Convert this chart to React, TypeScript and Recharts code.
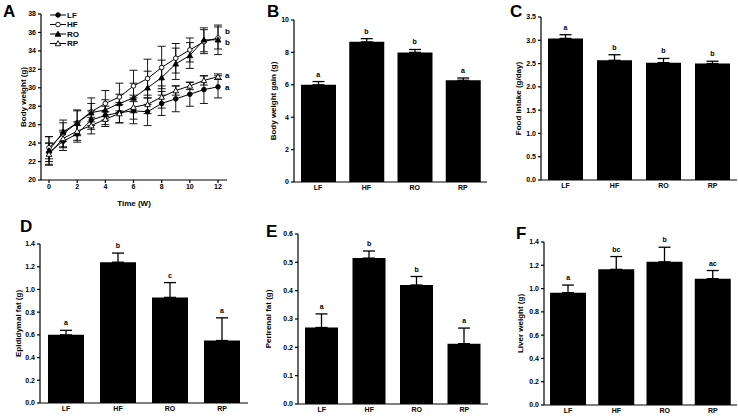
import React from "react";
import { ComposedChart, Line, Bar, XAxis, YAxis, ErrorBar, Legend } from "recharts";

// panel A: body weight over 12 weeks
const weeks = [0, 1, 2, 3, 4, 5, 6, 7, 8, 9, 10, 11, 12];
const lfWeight = [23.0, 24.2, 25.0, 26.5, 27.0, 27.3, 27.5, 27.4, 28.3, 28.8, 29.3, 29.8, 30.1];
const lfSem = [1.0, 1.0, 0.9, 1.0, 1.0, 1.1, 1.4, 1.5, 1.3, 1.4, 1.3, 1.5, 1.2];
const hfWeight = [23.5, 25.0, 26.2, 27.4, 28.3, 29.0, 30.2, 31.0, 32.2, 33.2, 34.1, 35.0, 35.4];
const hfSem = [1.2, 1.5, 1.4, 1.5, 1.4, 1.5, 1.7, 2.1, 2.3, 1.6, 1.3, 1.3, 1.2];
const roWeight = [23.2, 25.2, 26.2, 27.3, 27.6, 28.3, 28.9, 30.0, 31.1, 32.6, 33.5, 35.2, 35.2];
const roSem = [1.5, 1.0, 1.3, 1.0, 1.1, 1.0, 1.6, 1.8, 1.9, 1.7, 1.4, 1.3, 1.6];
const rpWeight = [22.8, 24.5, 25.3, 25.9, 26.6, 27.2, 27.9, 28.2, 29.0, 29.7, 30.2, 30.8, 31.2];
const rpSem = [1.2, 0.9, 1.0, 0.9, 0.8, 1.0, 1.3, 1.0, 1.2, 0.5, 0.4, 0.5, 0.3];
const weightTicks = [20, 22, 24, 26, 28, 30, 32, 34, 36, 38];
const weekTicks = [0, 2, 4, 6, 8, 10, 12];

// bar panels
const groups = ["LF", "HF", "RO", "RP"];
const gainMean = [6.0, 8.65, 8.0, 6.28];
const gainSem = [0.2, 0.2, 0.18, 0.14];
const gainLetters = ["a", "b", "b", "a"];
const intakeMean = [3.04, 2.57, 2.52, 2.5];
const intakeSem = [0.08, 0.12, 0.09, 0.05];
const intakeLetters = ["a", "b", "b", "b"];
const epiMean = [0.6, 1.24, 0.93, 0.55];
const epiSem = [0.04, 0.08, 0.13, 0.2];
const epiLetters = ["a", "b", "c", "a"];
const periMean = [0.27, 0.515, 0.42, 0.213];
const periSem = [0.048, 0.025, 0.03, 0.055];
const periLetters = ["a", "b", "b", "a"];
const liverMean = [0.965, 1.165, 1.23, 1.085];
const liverSem = [0.065, 0.11, 0.125, 0.07];
const liverLetters = ["a", "bc", "b", "ac"];

const FONT = "'Liberation Sans', Arial, sans-serif";
const tickStyle = { fontSize: 7, fontWeight: "bold", fill: "#000", fontFamily: FONT };
const axisStyle = { stroke: "#000", strokeWidth: 1.2 };

const lineSeries = [
  { key: "LF", values: lfWeight, sem: lfSem, shape: "circle", open: false, letter: "a", dy: 0 },
  { key: "HF", values: hfWeight, sem: hfSem, shape: "circle", open: true, letter: "b", dy: -7 },
  { key: "RO", values: roWeight, sem: roSem, shape: "triangle", open: false, letter: "b", dy: 2 },
  { key: "RP", values: rpWeight, sem: rpSem, shape: "triangle", open: true, letter: "a", dy: -2 },
];

const weightData = weeks.map((w, i) => {
  const row: any = { week: w };
  lineSeries.forEach((s) => {
    row[s.key] = s.values[i];
    row[s.key + "err"] = s.sem[i];
  });
  return row;
});

function marker(shape: string, open: boolean, cx: number, cy: number, key?: any) {
  const fill = open ? "#fff" : "#000";
  if (shape === "circle") {
    return <circle key={key} cx={cx} cy={cy} r={2.3} fill={fill} stroke="#000" strokeWidth={0.9} />;
  }
  const s = 2.8;
  return (
    <path
      key={key}
      d={`M${cx},${cy - s} L${cx + s},${cy + s * 0.8} L${cx - s},${cy + s * 0.8} Z`}
      fill={fill}
      stroke="#000"
      strokeWidth={0.9}
    />
  );
}

const renderLegend = () => (
  <svg width={40} height={40} style={{ display: "block" }}>
    {lineSeries.map((s, i) => (
      <g key={s.key} transform={`translate(0, ${4 + i * 9.5})`}>
        <line x1={0} x2={16} y1={0} y2={0} stroke="#000" strokeWidth={1} />
        {marker(s.shape, s.open, 8, 0)}
        <text x={17} y={0} dy="0.35em" fontSize={8} fontWeight="bold" fontFamily={FONT}>
          {s.key}
        </text>
      </g>
    ))}
  </svg>
);

function PanelLetter({ x, y, text }: { x: number; y: number; text: string }) {
  return (
    <div
      style={{
        position: "absolute",
        left: x,
        top: y,
        fontFamily: FONT,
        fontWeight: "bold",
        fontSize: 17,
        lineHeight: "17px",
      }}
    >
      {text}
    </div>
  );
}

function WeightPanel() {
  const last = weeks.length - 1;
  return (
    <div style={{ position: "absolute", left: 0, top: 0 }}>
      <ComposedChart width={240} height={210} data={weightData} margin={{ top: 14, right: 13, bottom: 4, left: 1 }}>
        <XAxis
          dataKey="week"
          type="number"
          domain={[0, 12]}
          ticks={weekTicks}
          interval={0}
          padding={{ left: 8, right: 9 }}
          height={26}
          tick={tickStyle}
          tickSize={3}
          tickMargin={1}
          tickLine={axisStyle}
          axisLine={axisStyle}
          label={{ value: "Time (W)", position: "insideBottom", offset: 0, style: { ...tickStyle, fontSize: 8 } }}
        />
        <YAxis
          width={40}
          domain={[20, 38]}
          ticks={weightTicks}
          interval={0}
          tick={tickStyle}
          tickSize={3}
          tickLine={axisStyle}
          axisLine={axisStyle}
          label={{
            value: "Body weight (g)",
            angle: -90,
            position: "insideLeft",
            offset: 22,
            style: { ...tickStyle, fontSize: 8, textAnchor: "middle" },
          }}
        />
        <Legend
          layout="vertical"
          align="center"
          verticalAlign="middle"
          content={renderLegend}
          wrapperStyle={{ left: 50, top: 11, width: 40, height: 40 }}
        />
        {lineSeries.map((s) => (
          <Line
            key={s.key}
            dataKey={s.key}
            stroke="#000"
            strokeWidth={1}
            isAnimationActive={false}
            activeDot={false}
            dot={(p: any) => marker(s.shape, s.open, p.cx, p.cy, p.index)}
            label={(p: any) =>
              p.index === last ? (
                <text
                  key={"l" + p.index}
                  x={p.x + 7}
                  y={p.y + s.dy}
                  dy="0.35em"
                  fontSize={8}
                  fontWeight="bold"
                  fontFamily={FONT}
                >
                  {s.letter}
                </text>
              ) : (
                <g key={"l" + p.index} />
              )
            }
          >
            <ErrorBar dataKey={s.key + "err"} width={4} stroke="#000" strokeWidth={0.9} direction="y" />
          </Line>
        ))}
      </ComposedChart>
    </div>
  );
}

interface BarPanelProps {
  x0: number;
  y0: number;
  w: number;
  h: number;
  margin: { top: number; right: number; bottom: number; left: number };
  xHeight: number;
  yLabel: string;
  labelOffset: number;
  means: number[];
  sems: number[];
  letters: string[];
  domain: [number, number];
  ticks: number[];
  digits: number;
  barSize: number;
}

function BarPanel(p: BarPanelProps) {
  const data = groups.map((g, i) => ({
    group: g,
    mean: p.means[i],
    err: [0, p.sems[i]],
    top: p.means[i] + p.sems[i],
  }));
  return (
    <div style={{ position: "absolute", left: p.x0, top: p.y0 }}>
      <ComposedChart width={p.w} height={p.h} data={data} margin={p.margin}>
        <XAxis
          dataKey="group"
          height={p.xHeight}
          tick={tickStyle}
          tickLine={false}
          tickSize={0}
          tickMargin={3}
          axisLine={axisStyle}
          interval={0}
        />
        <YAxis
          width={40}
          domain={p.domain}
          ticks={p.ticks}
          interval={0}
          tick={tickStyle}
          tickSize={3}
          tickLine={axisStyle}
          axisLine={axisStyle}
          tickFormatter={(v: number) => v.toFixed(p.digits)}
          label={{
            value: p.yLabel,
            angle: -90,
            position: "insideLeft",
            offset: p.labelOffset,
            style: { ...tickStyle, fontSize: 8, textAnchor: "middle" },
          }}
        />
        <Bar dataKey="mean" fill="#000" barSize={p.barSize} isAnimationActive={false}>
          <ErrorBar dataKey="err" width={6} stroke="#000" strokeWidth={1.3} direction="y" />
        </Bar>
        <Line
          dataKey="top"
          stroke="none"
          dot={false}
          activeDot={false}
          isAnimationActive={false}
          label={(lp: any) => (
            <text
              key={"t" + lp.index}
              x={lp.x}
              y={lp.y - 5}
              textAnchor="middle"
              fontSize={7}
              fontWeight="bold"
              fontFamily={FONT}
            >
              {p.letters[lp.index]}
            </text>
          )}
        />
      </ComposedChart>
    </div>
  );
}

export default function App() {
  return (
    <div style={{ position: "absolute", left: 0, top: 0, width: 738, height: 416, background: "#fff" }}>
      <WeightPanel />
      <BarPanel
        x0={240}
        y0={0}
        w={250}
        h={200}
        margin={{ top: 20, right: 3, bottom: 0, left: 14 }}
        xHeight={18}
        yLabel="Body weight gain (g)"
        labelOffset={19.5}
        means={gainMean}
        sems={gainSem}
        letters={gainLetters}
        domain={[0, 10]}
        ticks={[0, 2, 4, 6, 8, 10]}
        digits={0}
        barSize={35}
      />
      <BarPanel
        x0={490}
        y0={0}
        w={248}
        h={200}
        margin={{ top: 17, right: 1, bottom: 0, left: 11 }}
        xHeight={20}
        yLabel="Food intake (g/day)"
        labelOffset={16.7}
        means={intakeMean}
        sems={intakeSem}
        letters={intakeLetters}
        domain={[0, 3.5]}
        ticks={[0, 0.5, 1, 1.5, 2, 2.5, 3, 3.5]}
        digits={1}
        barSize={35}
      />
      <BarPanel
        x0={0}
        y0={210}
        w={250}
        h={206}
        margin={{ top: 34, right: 2, bottom: 0, left: 0 }}
        xHeight={13}
        yLabel="Epididymal fat (g)"
        labelOffset={17.8}
        means={epiMean}
        sems={epiSem}
        letters={epiLetters}
        domain={[0, 1.4]}
        ticks={[0, 0.2, 0.4, 0.6, 0.8, 1, 1.2, 1.4]}
        digits={1}
        barSize={36}
      />
      <BarPanel
        x0={240}
        y0={210}
        w={250}
        h={206}
        margin={{ top: 24, right: 2, bottom: 0, left: 18 }}
        xHeight={12}
        yLabel="Perirenal fat (g)"
        labelOffset={10.3}
        means={periMean}
        sems={periSem}
        letters={periLetters}
        domain={[0, 0.6]}
        ticks={[0, 0.1, 0.2, 0.3, 0.4, 0.5, 0.6]}
        digits={1}
        barSize={33}
      />
      <BarPanel
        x0={490}
        y0={210}
        w={248}
        h={206}
        margin={{ top: 32, right: 1, bottom: 0, left: 14 }}
        xHeight={11}
        yLabel="Liver weight (g)"
        labelOffset={16}
        means={liverMean}
        sems={liverSem}
        letters={liverLetters}
        domain={[0, 1.4]}
        ticks={[0, 0.2, 0.4, 0.6, 0.8, 1, 1.2, 1.4]}
        digits={1}
        barSize={36}
      />
      <PanelLetter x={3} y={3} text="A" />
      <PanelLetter x={267} y={3} text="B" />
      <PanelLetter x={510} y={3} text="C" />
      <PanelLetter x={20} y={218} text="D" />
      <PanelLetter x={266} y={223} text="E" />
      <PanelLetter x={516} y={225} text="F" />
    </div>
  );
}
